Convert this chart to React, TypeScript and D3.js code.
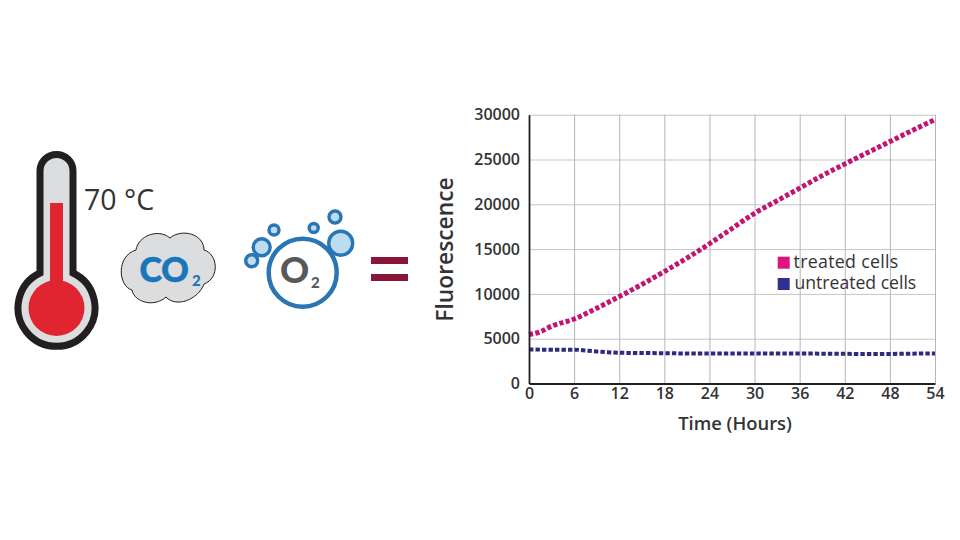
import React, { useEffect, useRef } from "react";
import * as d3 from "d3";

const hours = [0, 1.5, 3, 6, 9, 12, 15, 18, 21, 24, 27, 30, 33, 36, 39, 42, 45, 48, 51, 54];
const treated = [5450, 5780, 6400, 7200, 8400, 9700, 11050, 12500, 14000, 15600, 17300, 19000, 20400, 21800, 23200, 24500, 25750, 27000, 28250, 29450];
const untreated = [3800, 3780, 3760, 3770, 3570, 3430, 3400, 3380, 3350, 3340, 3350, 3350, 3340, 3340, 3330, 3310, 3290, 3300, 3330, 3350];
const xTicks = [0, 6, 12, 18, 24, 30, 36, 42, 48, 54];
const yTicks = [0, 5000, 10000, 15000, 20000, 25000, 30000];
const legendLabels = ["treated cells", "untreated cells"];
const bubbles = [
  [340.7, 243.3, 12],
  [335, 217, 6],
  [313.7, 228, 4.5],
  [274, 230, 5],
  [261.7, 247.3, 8.5],
  [251.7, 260.7, 6],
];

const font = "'Open Sans', Lato, sans-serif";
const iconFont = "Lato, 'Open Sans', sans-serif";

export default function App() {
  const ref = useRef<SVGGElement>(null);

  useEffect(() => {
    const x = d3.scaleLinear().domain([0, 54]).range([529, 935]);
    const y = d3.scaleLinear().domain([0, 30000]).range([383.5, 114.7]);
    const g = d3.select(ref.current);
    g.selectAll("*").remove();

    // grid
    g.append("g")
      .attr("transform", "translate(529,0)")
      .call(d3.axisLeft(y).tickValues(yTicks.slice(1)).tickSize(-406).tickFormat(() => ""))
      .call((s) => s.select(".domain").remove())
      .selectAll("line")
      .attr("stroke", "#c4c5c7")
      .attr("stroke-width", 1);
    g.append("g")
      .attr("transform", "translate(0,383.5)")
      .call(d3.axisBottom(x).tickValues(xTicks.slice(1)).tickSize(-268.8).tickFormat(() => ""))
      .call((s) => s.select(".domain").remove())
      .selectAll("line")
      .attr("stroke", "#b4b5b8")
      .attr("stroke-width", 1);

    // series
    const line = d3
      .line<number>()
      .x((_, i) => x(hours[i]))
      .y((d) => y(d))
      .curve(d3.curveMonotoneX);
    g.append("path")
      .attr("d", line(untreated))
      .attr("fill", "none")
      .attr("stroke", "#2e2a80")
      .attr("stroke-width", 4)
      .attr("stroke-dasharray", "4.4 2.1");
    g.append("path")
      .attr("d", line(treated))
      .attr("fill", "none")
      .attr("stroke", "#c4146f")
      .attr("stroke-width", 5)
      .attr("stroke-dasharray", "4.2 2.3");

    // axes
    const left = g
      .append("g")
      .attr("transform", "translate(529,0)")
      .call(d3.axisLeft(y).tickValues(yTicks).tickSize(0).tickPadding(9).tickFormat(d3.format("d")));
    left.select(".domain").attr("stroke", "#231f20").attr("stroke-width", 1.8);
    const bottom = g
      .append("g")
      .attr("transform", "translate(0,383.5)")
      .call(d3.axisBottom(x).tickValues(xTicks).tickSize(0).tickPadding(4));
    bottom.select(".domain").attr("stroke", "#231f20").attr("stroke-width", 1.8);
    g.selectAll(".tick text")
      .attr("font-family", font)
      .attr("font-size", 16)
      .attr("font-weight", 600)
      .attr("fill", "#333335");
    left.selectAll(".tick text").attr("dy", "0.32em");
  }, []);

  return (
    <svg width={960} height={540} style={{ position: "absolute", left: 0, top: 0, background: "#fff" }}>
      {/* thermometer */}
      <path
        d="M40 273 L40 171 A16.5 16.5 0 0 1 73 171 L73 273 A38.5 38.5 0 1 1 40 273 Z"
        fill="#dcddde"
        stroke="#231f20"
        strokeWidth={7}
      />
      <rect x={50} y={203} width={13} height={80} fill="#e12530" />
      <circle cx={56.5} cy={308} r={28} fill="#e12530" />
      <text x={84} y={210} fontFamily={font} fontSize={28.5} fill="#333">70 °C</text>

      {/* cloud */}
      <path
        d="M136 250 C138 236 158 228 170 238 C182 228 204 234 204 250 C218 254 220 278 204 284 C198 300 176 308 166 297 C154 308 134 302 132 290 C118 286 116 256 136 250 Z"
        fill="#dcddde"
        stroke="#231f20"
        strokeWidth={1}
      />
      <text x={139.5} y={282} fontFamily={iconFont} fontSize={34} fontWeight={900} fill="#1b75bb" stroke="#1b75bb" strokeWidth={0.6}>CO</text>
      <text x={192} y={286} fontFamily={iconFont} fontSize={15} fontWeight={900} fill="#1b75bb">2</text>

      {/* oxygen */}
      {bubbles.map(([cx, cy, r], i) => (
        <circle key={i} cx={cx} cy={cy} r={r} fill="#bcdcf2" stroke="#2a75b3" strokeWidth={3.4} />
      ))}
      <circle cx={302.7} cy={272.7} r={34} fill="#fff" stroke="#2a75b3" strokeWidth={4.5} />
      <text x={280} y={283} fontFamily={iconFont} fontSize={36} fontWeight={900} fill="#58595b">O</text>
      <text x={311} y={288} fontFamily={iconFont} fontSize={15} fontWeight={900} fill="#58595b">2</text>

      {/* equals */}
      <rect x={371} y={257} width={37} height={7} fill="#8a1538" />
      <rect x={371} y={274} width={37} height={7} fill="#8a1538" />

      <g ref={ref} />

      <text
        transform="translate(452.5,249.5) rotate(-90)"
        textAnchor="middle"
        fontFamily={font}
        fontSize={22.8}
        fontWeight={600}
        fill="#333335"
      >
        Fluorescence
      </text>
      <text x={735} y={430} textAnchor="middle" fontFamily={font} fontSize={18.4} fontWeight={600} fill="#333335">
        Time (Hours)
      </text>

      {/* legend */}
      <rect x={777.7} y={256.7} width={12} height={12} fill="#e0147f" />
      <rect x={777.7} y={278} width={12} height={12} fill="#2e3192" />
      <text x={793.5} y={268} fontFamily={font} fontSize={17.8} letterSpacing={0.3} fill="#333335">{legendLabels[0]}</text>
      <text x={794.5} y={289} fontFamily={font} fontSize={17.6} fill="#333335">{legendLabels[1]}</text>
    </svg>
  );
}
